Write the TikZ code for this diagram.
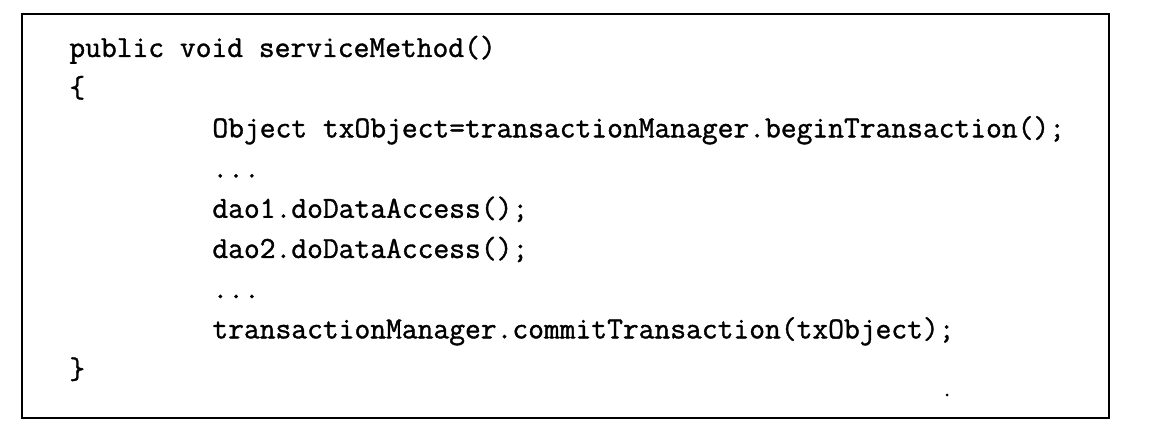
\documentclass[tikz,border=0pt]{standalone}
\usepackage{fontspec}
\setmonofont{Latin Modern Mono}[FakeBold=1.2]
\usepackage{tikz}

\begin{document}
\begin{tikzpicture}[x=0.5pt, y=-0.5pt,
  code/.style={anchor=base west, inner sep=0pt,
    font=\ttfamily\fontsize{15.33}{18}\selectfont}]
  \useasboundingbox (0,0) rectangle (1162,442);
  \draw[line width=1.3pt] (22,14) rectangle (1109,418);

  \node[code] (head) at (69,57) {public void serviceMethod()};
  \node[code] (open) at (69,97.2) {\{};
  \node[code] (begin) at (212,137.4) {Object txObject=transactionManager.beginTransaction();};
  \node[code] (skipa) at (212,177.6) {...};
  \node[code] (daoa) at (212,217.8) {dao1.doDataAccess();};
  \node[code] (daob) at (212,258) {dao2.doDataAccess();};
  \node[code] (skipb) at (212,298.2) {...};
  \node[code] (commit) at (212,338.4) {transactionManager.commitTransaction(txObject);};
  \node[code] (close) at (69,378.6) {\}};

  \fill (947,395) circle (1.5);
\end{tikzpicture}
\end{document}
